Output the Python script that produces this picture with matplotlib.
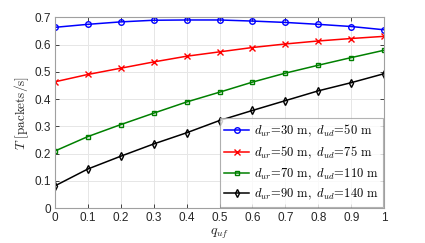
import matplotlib
matplotlib.use('Agg')
import matplotlib.pyplot as plt
import numpy as np

plt.rcParams['mathtext.fontset'] = 'cm'
plt.rcParams['font.family'] = ['Liberation Sans', 'DejaVu Sans']

q_uf = [0, 0.1, 0.2, 0.3, 0.4, 0.5, 0.6, 0.7, 0.8, 0.9, 1.0]
T_30_50 = [0.663, 0.674, 0.683, 0.689, 0.690, 0.690, 0.686, 0.681, 0.674, 0.666, 0.654]
T_50_75 = [0.463, 0.490, 0.513, 0.536, 0.557, 0.573, 0.589, 0.602, 0.613, 0.622, 0.630]
T_70_110 = [0.209, 0.262, 0.306, 0.348, 0.389, 0.425, 0.462, 0.495, 0.524, 0.552, 0.579]
T_90_140 = [0.081, 0.143, 0.190, 0.235, 0.276, 0.321, 0.358, 0.394, 0.430, 0.460, 0.493]

labels = [
    r'$d_{ur}\!=\!30\ \mathrm{m},\ d_{ud}\!=\!50\ \mathrm{m}$',
    r'$d_{ur}\!=\!50\ \mathrm{m},\ d_{ud}\!=\!75\ \mathrm{m}$',
    r'$d_{ur}\!=\!70\ \mathrm{m},\ d_{ud}\!=\!110\ \mathrm{m}$',
    r'$d_{ur}\!=\!90\ \mathrm{m},\ d_{ud}\!=\!140\ \mathrm{m}$',
]

fig = plt.figure(figsize=(4.25, 2.43), dpi=100)
ax = fig.add_axes([0.129, 0.144, 0.775, 0.785])

styles = [('#0000ff', 'o'), ('#ff0000', 'x'), ('#008000', 's'), ('#000000', 'd')]
series = [T_30_50, T_50_75, T_70_110, T_90_140]
for ys, (c, m), lab in zip(series, styles, labels):
    ax.plot(q_uf, ys, color=c, marker=m, markersize=4 if m != 's' else 3.5,
            markerfacecolor='none', markeredgewidth=1.0, linewidth=1.1, label=lab)

ax.set_xlim(0, 1)
ax.set_ylim(0, 0.7)
ax.set_xticks(q_uf)
ax.set_xticklabels(['0', '0.1', '0.2', '0.3', '0.4', '0.5', '0.6', '0.7', '0.8', '0.9', '1'])
ax.set_yticks([0, 0.1, 0.2, 0.3, 0.4, 0.5, 0.6, 0.7])
ax.set_yticklabels(['0', '0.1', '0.2', '0.3', '0.4', '0.5', '0.6', '0.7'])
ax.grid(True, color='#e6e6e6', linewidth=0.7)
ax.set_axisbelow(True)
for s in ax.spines.values():
    s.set_color('#a0a0a0')
    s.set_linewidth(0.8)
ax.tick_params(direction='in', length=3, width=0.6, colors='#262626', labelsize=8.5, pad=3)
ax.tick_params(top=True, right=True, labeltop=False, labelright=False)

ax.set_xlabel(r'$q_{uf}$', fontsize=10, color='#262626', labelpad=2)
ax.set_ylabel(r'$T\ \mathrm{[packets/s]}$', fontsize=9.5, color='#262626', labelpad=2)

leg = ax.legend(loc='lower right', fontsize=9, frameon=True, fancybox=False,
                borderaxespad=0.1, handlelength=2.0, handletextpad=0.4,
                labelspacing=0.45, borderpad=0.35)
leg.get_frame().set_edgecolor('#a0a0a0')
leg.get_frame().set_linewidth(0.8)

fig.savefig('out.png', dpi=100)
